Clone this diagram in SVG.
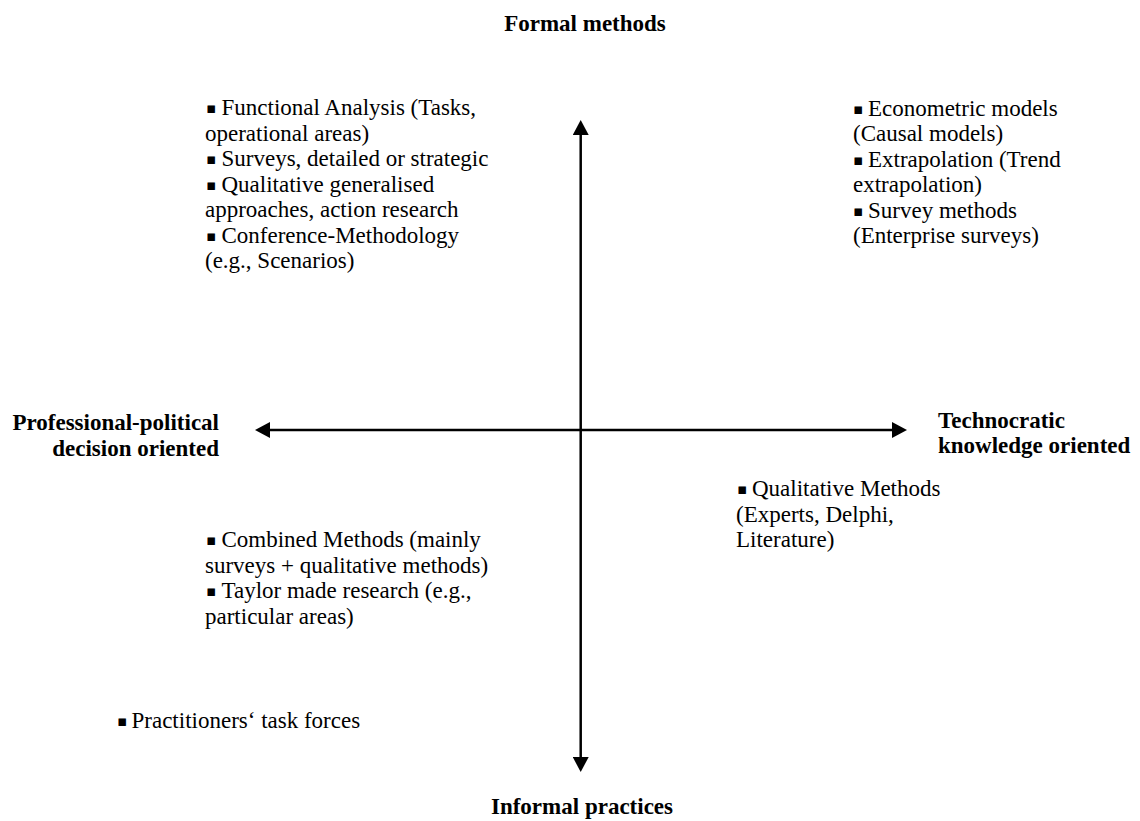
<svg xmlns="http://www.w3.org/2000/svg" width="1140" height="821" viewBox="0 0 1140 821">
<style>
.lbl{font-family:'Liberation Serif','Times New Roman',serif;font-size:23px;font-weight:bold;fill:#000}
.txt{font-family:'Liberation Serif','Times New Roman',serif;font-size:23px;fill:#000}
.bul{font-family:'DejaVu Sans',sans-serif;font-size:15px;fill:#000}
.axis{stroke:#000;stroke-width:2.5;fill:none}
</style>
<defs>
<marker id="ah" viewBox="0 0 15 16" refX="0" refY="8" markerWidth="15" markerHeight="16" markerUnits="userSpaceOnUse" orient="auto-start-reverse">
<path d="M0,0 L15,8 L0,16 Z" fill="#000"/>
</marker>
</defs>
<rect x="0" y="0" width="1140" height="821" fill="#ffffff"/>
<g id="connectors">
<line class="axis" x1="580.7" y1="135" x2="580.7" y2="757" marker-start="url(#ah)" marker-end="url(#ah)"/>
<line class="axis" x1="270" y1="430" x2="892" y2="430" marker-start="url(#ah)" marker-end="url(#ah)"/>
</g>
<g id="label-top"><text class="lbl" x="585" y="31" text-anchor="middle">Formal methods</text></g>
<g id="label-bottom"><text class="lbl" x="582" y="814" text-anchor="middle">Informal practices</text></g>
<g id="label-left">
<text class="lbl" x="219" y="430" text-anchor="end">Professional-political</text>
<text class="lbl" x="219" y="456" text-anchor="end">decision oriented</text>
</g>
<g id="label-right">
<text class="lbl" x="938" y="428">Technocratic</text>
<text class="lbl" x="938" y="453">knowledge oriented</text>
</g>
<g id="quadrant-top-left">
<text class="bul" x="206" y="113">▪</text><text class="txt" x="221.5" y="115">Functional Analysis (Tasks,</text>
<text class="txt" x="205" y="140.5">operational areas)</text>
<text class="bul" x="206" y="164">▪</text><text class="txt" x="221.5" y="166">Surveys, detailed or strategic</text>
<text class="bul" x="206" y="189.5">▪</text><text class="txt" x="221.5" y="191.5">Qualitative generalised</text>
<text class="txt" x="205" y="217">approaches, action research</text>
<text class="bul" x="206" y="240.5">▪</text><text class="txt" x="221.5" y="242.5">Conference-Methodology</text>
<text class="txt" x="205" y="268">(e.g., Scenarios)</text>
</g>
<g id="quadrant-top-right">
<text class="bul" x="853" y="113.5">▪</text><text class="txt" x="868" y="115.5">Econometric models</text>
<text class="txt" x="853" y="141">(Causal models)</text>
<text class="bul" x="853" y="164.5">▪</text><text class="txt" x="868" y="166.5">Extrapolation (Trend</text>
<text class="txt" x="853" y="192">extrapolation)</text>
<text class="bul" x="853" y="215.5">▪</text><text class="txt" x="868" y="217.5">Survey methods</text>
<text class="txt" x="853" y="243">(Enterprise surveys)</text>
</g>
<g id="quadrant-bottom-right">
<text class="bul" x="737" y="494">▪</text><text class="txt" x="752" y="496">Qualitative Methods</text>
<text class="txt" x="736" y="521.5">(Experts, Delphi,</text>
<text class="txt" x="736" y="547">Literature)</text>
</g>
<g id="quadrant-bottom-left">
<text class="bul" x="206" y="545">▪</text><text class="txt" x="221.5" y="547">Combined Methods (mainly</text>
<text class="txt" x="205" y="572.5">surveys + qualitative methods)</text>
<text class="bul" x="206" y="596">▪</text><text class="txt" x="221.5" y="598">Taylor made research (e.g.,</text>
<text class="txt" x="205" y="623.5">particular areas)</text>
</g>
<g id="practitioners">
<text class="bul" x="117" y="725.5">▪</text><text class="txt" x="131.5" y="727.5">Practitioners‘ task forces</text>
</g>
</svg>
